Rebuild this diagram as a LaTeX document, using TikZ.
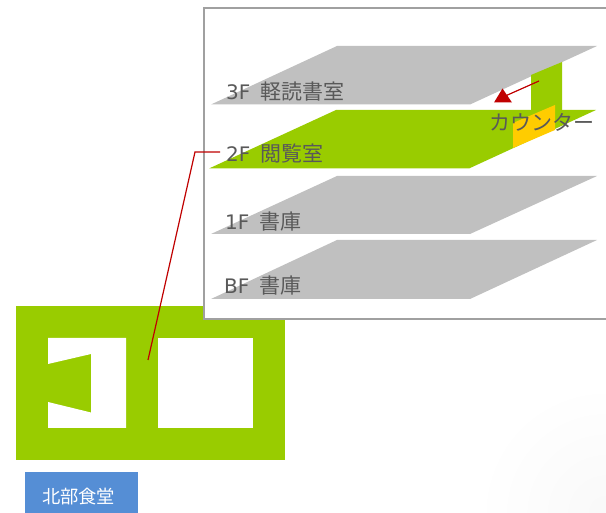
\documentclass[tikz,border=0pt]{standalone}
\usepackage{fontspec}
\setmainfont{Noto Sans CJK JP}[Scale=1]
\newfontfamily\latinpart{DejaVu Sans}
\newcommand{\lat}[1]{{\latinpart\fontsize{20}{20}\selectfont #1\kern10pt}}
\definecolor{leaf}{HTML}{99CC00}
\definecolor{plate}{HTML}{C0C0C0}
\definecolor{amber}{HTML}{FFCC00}
\definecolor{crimson}{HTML}{C00000}
\definecolor{label}{HTML}{595959}
\definecolor{tag}{HTML}{558ED5}
\definecolor{frame}{HTML}{A0A0A0}
\tikzset{
  floorlabel/.style={anchor=west,inner sep=0pt,text=label,font=\fontsize{21}{21}\selectfont},
  leader/.style={draw=crimson,line width=1.2pt},
}
\begin{document}
\begin{tikzpicture}[x=1pt,y=-1pt]
\useasboundingbox (0,0) rectangle (606,513);
\fill[white] (0,0) rectangle (606,513);
\begin{scope}
\clip (0,0) rectangle (606,513);
\shade[inner color=black!2.5,outer color=white] (606,513) circle (130);
% building plan
\fill[leaf] (16,306) rectangle (285,460);
\fill[white] (48,338) -- (126,338) -- (126,428) -- (48,428) -- (48,402) -- (91,412.5) -- (91,354) -- (48,364) -- cycle;
\fill[white] (158,338) rectangle (253,428);
% inset frame
\filldraw[draw=frame,fill=white,line width=1.2pt] (612,8) -- (204,8) -- (204,319) -- (612,319);
% floors
\fill[plate] (211,104.5) -- (337,46) -- (597,46) -- (470,104.5) -- cycle;
\fill[leaf] (531,75) -- (562,62) -- (562,111) -- (531,111) -- cycle;
\fill[leaf] (209,168.5) -- (336,110) -- (596,110) -- (469,168.5) -- cycle;
\fill[amber] (513,123) -- (555,105) -- (555,130) -- (513,148) -- cycle;
\fill[plate] (211,234) -- (337,176) -- (597,176) -- (470,234) -- cycle;
\fill[plate] (211,299) -- (337,240) -- (597,240) -- (470,299) -- cycle;
% labels
\node[floorlabel] (f3) at (226,91.5) {\lat{3F}軽読書室};
\node[floorlabel] (f2) at (226,154) {\lat{2F}閲覧室};
\node[floorlabel] (f1) at (225,221.5) {\lat{1F}書庫};
\node[floorlabel] (fb) at (224,285.5) {\lat{BF}書庫};
\node[floorlabel] (counter) at (489,122.5) {カウンター};
\node[fill=tag,text=white,inner sep=0pt,minimum width=113pt,minimum height=48pt,anchor=north west,font=\fontsize{18.3}{18.3}\selectfont] (north) at (25,472) {北部食堂\kern6pt};
% counter pointer
\coordinate (ptrstart) at (539,81);
\coordinate (ptrend) at (503,97);
\draw[leader] (ptrstart) -- (ptrend);
\fill[crimson] (502.5,88.5) -- (512,102.5) -- (494,102.5) -- cycle;
% leader to reading room
\coordinate (roomspot) at (148,360);
\coordinate (bend) at (195,152);
\coordinate (leaderend) at (220,152);
\draw[leader] (roomspot) -- (bend) -- (leaderend);
\end{scope}
\end{tikzpicture}
\end{document}
